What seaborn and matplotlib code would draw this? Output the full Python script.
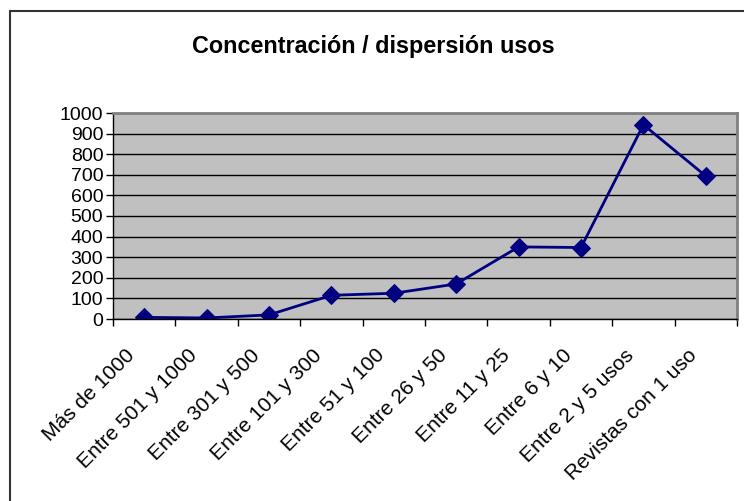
import numpy as np
import pandas as pd
import matplotlib
matplotlib.use('Agg')
import matplotlib.pyplot as plt
import matplotlib.transforms as mtransforms
from matplotlib.patches import Rectangle
import seaborn as sns

categories = ['Más de 1000', 'Entre 501 y 1000', 'Entre 301 y 500', 'Entre 101 y 300',
              'Entre 51 y 100', 'Entre 26 y 50', 'Entre 11 y 25', 'Entre 6 y 10',
              'Entre 2 y 5 usos', 'Revistas con 1 uso']
usos = [8, 5, 20, 115, 125, 170, 350, 347, 943, 694]

df = pd.DataFrame({'cat': categories, 'usos': usos, 'pos': np.arange(len(categories))})

sns.set_style('white')
plt.rcParams['font.family'] = ['Liberation Sans', 'DejaVu Sans']
plt.rcParams['text.color'] = 'black'
plt.rcParams['xtick.color'] = 'black'
plt.rcParams['ytick.color'] = 'black'

fig = plt.figure(figsize=(7.44, 5.01), dpi=100)
ax = fig.add_axes([113 / 744, 1 - 319 / 501, (737 - 113) / 744, (319 - 113) / 501])

# outer chart border (only top/left visible in the crop)
fig.patches.append(Rectangle((10 / 744, -0.1), 1.2, 1 - 11 / 501 + 0.1,
                             transform=fig.transFigure, fill=False,
                             edgecolor='#333333', linewidth=1.5))

ax.set_facecolor('#C0C0C0')
sns.lineplot(data=df, x='pos', y='usos', ax=ax, color='#000080', marker='D',
             markersize=9, markeredgecolor='#000080', linewidth=2)

ax.set_xlim(-0.5, len(categories) - 0.5)
ax.set_ylim(0, 1000)
ax.set_yticks(np.arange(0, 1001, 100))
ax.yaxis.grid(True, color='black', linewidth=1)
ax.set_axisbelow(True)

ax.set_xticks(np.arange(len(categories)))
ax.set_xticks(np.arange(-0.5, len(categories)), minor=True)
ax.tick_params(axis='x', which='major', length=0, pad=24)
ax.tick_params(axis='x', which='minor', length=5, width=1, color='black', direction='out', bottom=True)
ax.tick_params(axis='y', length=5, width=1, color='black', direction='out', left=True, labelsize=14, pad=2)
ax.set_xticklabels(categories, rotation=45, ha='right', va='center',
                   rotation_mode='anchor', fontsize=15)
shift = mtransforms.ScaledTranslation(-12 / 100, 0, fig.dpi_scale_trans)
for lbl in ax.get_xticklabels():
    lbl.set_transform(lbl.get_transform() + shift)

ax.set_xlabel('')
ax.set_ylabel('')
for s in ['left', 'bottom']:
    ax.spines[s].set_color('black')
    ax.spines[s].set_linewidth(1)
for s in ['top', 'right']:
    ax.spines[s].set_color('#808080')
    ax.spines[s].set_linewidth(2)

fig.text(373 / 744, 1 - 46 / 501, 'Concentración / dispersión usos', ha='center', va='center',
         fontsize=16.8, fontweight='bold')

fig.savefig('out.png', dpi=100)
